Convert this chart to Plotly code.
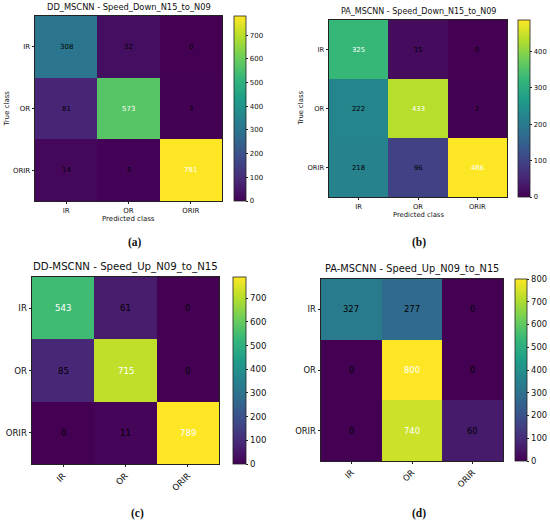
import plotly.graph_objects as go

W, H = 550, 522

classes = ["IR", "OR", "ORIR"]

titles = [
    "DD_MSCNN - Speed_Down_N15_to_N09",
    "PA_MSCNN - Speed_Down_N15_to_N09",
    "DD-MSCNN - Speed_Up_N09_to_N15",
    "PA-MSCNN - Speed_Up_N09_to_N15",
]
captions = ["(a)", "(b)", "(c)", "(d)"]

cm_a = [[308, 32, 0], [81, 573, 3], [14, 5, 781]]
cm_b = [[325, 15, 0], [222, 433, 2], [218, 96, 486]]
cm_c = [[543, 61, 0], [85, 715, 0], [0, 11, 789]]
cm_d = [[327, 277, 0], [0, 800, 0], [0, 740, 60]]
matrices = [cm_a, cm_b, cm_c, cm_d]

# pixel boxes: heatmap x0,x1,y0,y1 ; colorbar x0,x1 ; caption x,y
boxes = [
    dict(hx=(35, 222), hy=(16, 201), cb=(234, 246), cap=(135, 243), fs=7.0, ts=8.3, axis_titles=True, rot=0),
    dict(hx=(329, 507), hy=(20, 197), cb=(518, 530), cap=(419, 243), fs=6.8, ts=8.0, axis_titles=True, rot=0),
    dict(hx=(32, 219), hy=(277, 464), cb=(233, 246), cap=(137, 513), fs=8.6, ts=10.2, axis_titles=False, rot=-45),
    dict(hx=(321, 503), hy=(279, 461), cb=(515, 527), cap=(419, 513), fs=8.4, ts=9.8, axis_titles=False, rot=-45),
]


def px(x):
    return x / W


def py(y):
    return 1 - y / H


fig = go.Figure()
annotations = []
font = "DejaVu Sans"

for i, (cm, box) in enumerate(zip(matrices, boxes)):
    n = i + 1
    xa = "x" if n == 1 else f"x{n}"
    ya = "y" if n == 1 else f"y{n}"
    zmax = max(max(r) for r in cm)
    hx, hy, cb, fs = box["hx"], box["hy"], box["cb"], box["fs"]

    fig.add_trace(go.Heatmap(
        z=cm, x=classes, y=classes, xaxis=xa, yaxis=ya,
        colorscale="Viridis", zmin=0, zmax=zmax,
        hoverinfo="skip",
        colorbar=dict(
            x=px(cb[0]), xanchor="left", xpad=0, ypad=0,
            y=py((hy[0] + hy[1]) / 2), yanchor="middle",
            len=(hy[1] - hy[0]) / H, lenmode="fraction",
            thickness=cb[1] - cb[0], thicknessmode="pixels",
            outlinewidth=0.8, outlinecolor="#222",
            ticks="outside", ticklen=2.5, tickwidth=0.8, tickcolor="#222",
            dtick=100, tickfont=dict(size=fs, color="#111", family=font),
        ),
    ))

    axis_common = dict(
        showline=True, mirror=True, linecolor="#222", linewidth=0.8,
        ticks="outside", ticklen=2.5, tickwidth=0.8, tickcolor="#222",
        showgrid=False, zeroline=False, fixedrange=True, automargin=False,
        tickfont=dict(size=fs, color="#111", family=font),
    )
    fig.layout[f"xaxis{n if n > 1 else ''}"] = dict(
        axis_common, domain=[px(hx[0]), px(hx[1])], anchor=ya,
        tickangle=box["rot"],
    )
    fig.layout[f"yaxis{n if n > 1 else ''}"] = dict(
        axis_common, domain=[py(hy[1]), py(hy[0])], anchor=xa,
        autorange="reversed",
    )

    # cell values, white on dark-threshold like matplotlib
    for r, row in enumerate(cm):
        for c, v in enumerate(row):
            annotations.append(dict(
                x=classes[c], y=classes[r], xref=xa, yref=ya,
                text=str(v), showarrow=False,
                font=dict(size=fs, family=font,
                          color="white" if v > zmax / 2 else "black"),
            ))

    # subplot title
    annotations.append(dict(
        x=px((hx[0] + hx[1]) / 2), y=py(hy[0] - 2), xref="paper", yref="paper",
        xanchor="center", yanchor="bottom", showarrow=False,
        text=titles[i], font=dict(size=box["ts"], family=font, color="#111"),
    ))

    if box["axis_titles"]:
        annotations.append(dict(
            x=px((hx[0] + hx[1]) / 2), y=py(hy[1] + 18), xref="paper", yref="paper",
            xanchor="center", yanchor="middle", showarrow=False,
            text="Predicted class", font=dict(size=fs, family=font, color="#111"),
        ))
        annotations.append(dict(
            x=px(hx[0] - 28), y=py((hy[0] + hy[1]) / 2), xref="paper", yref="paper",
            xanchor="center", yanchor="middle", showarrow=False, textangle=-90,
            text="True class", font=dict(size=fs, family=font, color="#111"),
        ))

    annotations.append(dict(
        x=px(box["cap"][0]), y=py(box["cap"][1]), xref="paper", yref="paper",
        xanchor="center", yanchor="middle", showarrow=False,
        text="<b>" + captions[i] + "</b>",
        font=dict(size=11.5, family="Liberation Serif", color="#111"),
    ))

fig.update_layout(
    width=W, height=H,
    margin=dict(l=0, r=0, t=0, b=0, autoexpand=False),
    paper_bgcolor="white", plot_bgcolor="white",
    annotations=annotations,
    showlegend=False,
)

# page body has a default 8px margin; drop it so the figure fills the window
fig.write_html("out.html", config={"displayModeBar": False},
               post_script="document.body.style.margin='0';")
